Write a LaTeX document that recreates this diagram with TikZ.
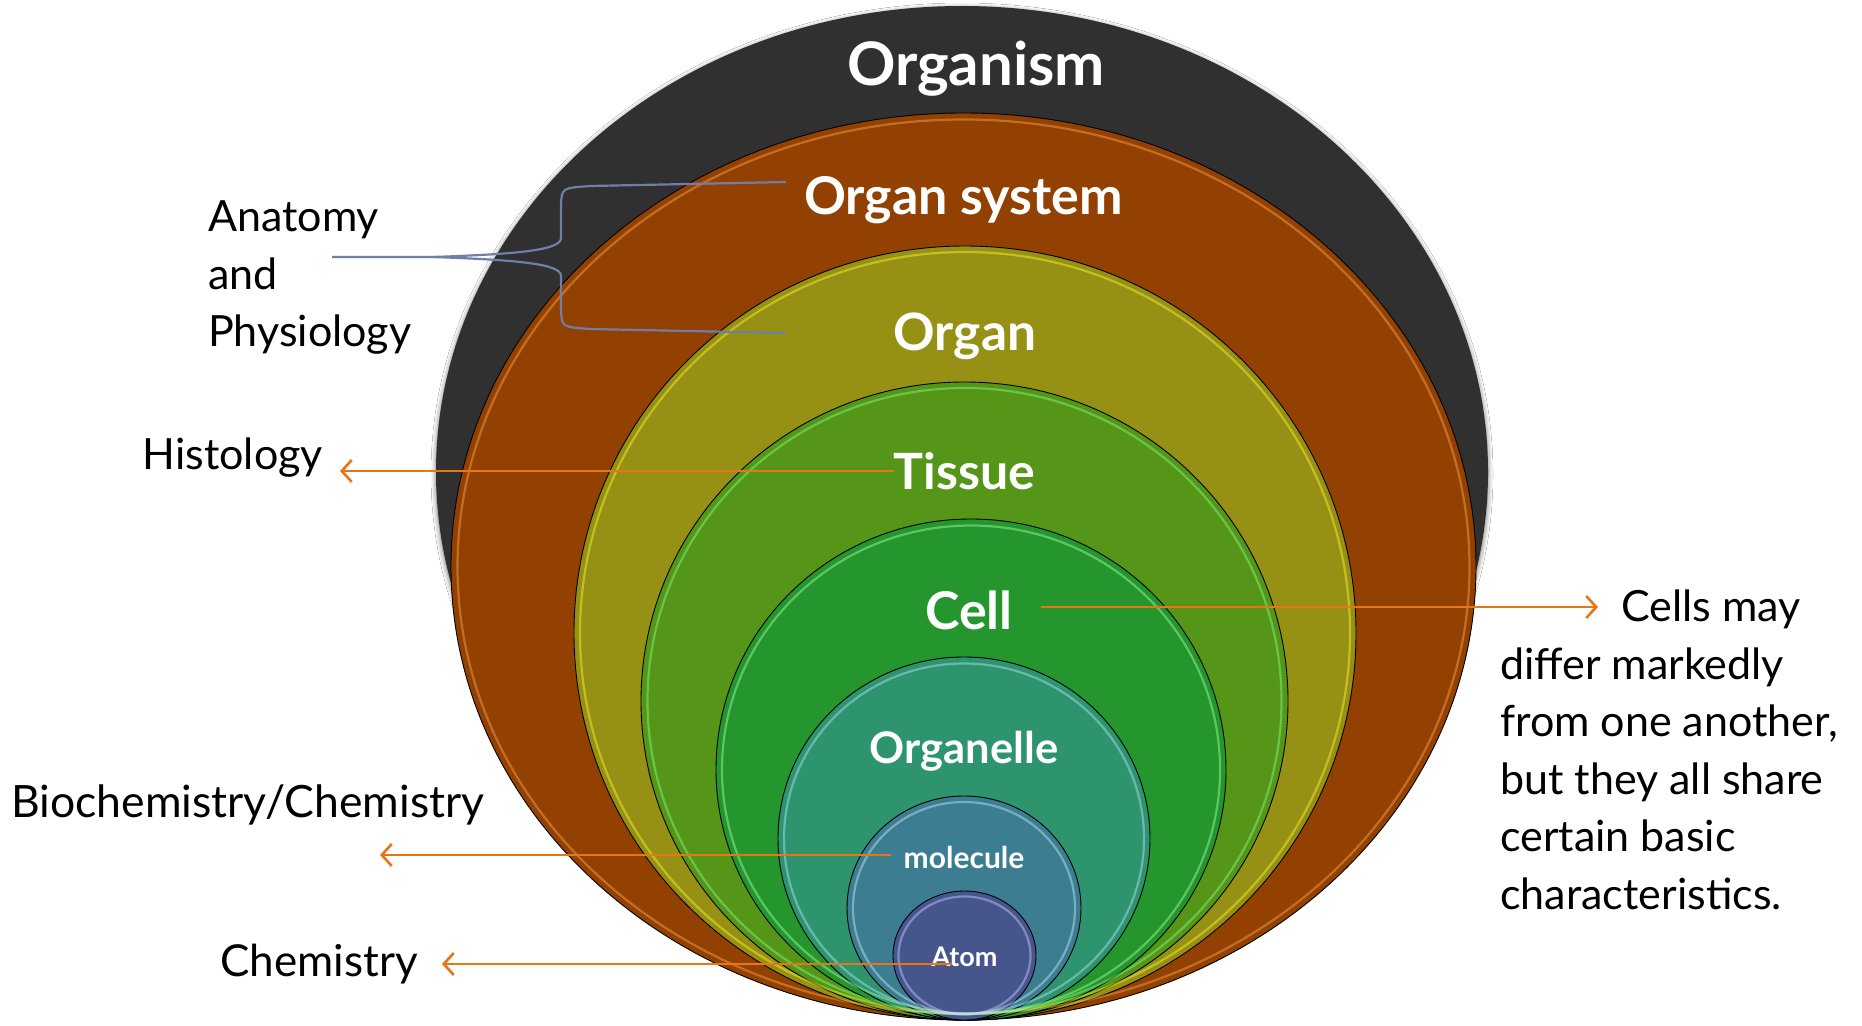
\documentclass[tikz,border=0pt]{standalone}
\usepackage{fontspec}
\setmainfont{Lato}
\usetikzlibrary{arrows.meta,positioning,calc,shapes.geometric,shadows.blur}

\definecolor{organismgray}{RGB}{48,48,48}
\definecolor{systembrown}{RGB}{147,65,2}
\definecolor{organolive}{RGB}{150,145,20}
\definecolor{tissuegreen}{RGB}{85,150,25}
\definecolor{cellgreen}{RGB}{36,150,45}
\definecolor{organelleteal}{RGB}{45,148,110}
\definecolor{moleculeblue}{RGB}{60,125,145}
\definecolor{atomblue}{RGB}{70,86,140}
\definecolor{arroworange}{RGB}{232,118,20}
\definecolor{bracegray}{RGB}{112,126,168}

\begin{document}
\begin{tikzpicture}[x=1pt, y=-1pt, >={Straight Barb[length=10pt,width=22pt,line width=2.6pt]}]
  \tikzstyle{ring}=[ellipse, draw=black, line width=0.9pt, inner sep=0pt, outer sep=0pt]
  \tikzstyle{rim}=[line width=2.2pt, draw opacity=0.45]
  \tikzstyle{level}=[text=white, inner sep=0pt]
  \tikzstyle{field}=[text=black, inner sep=0pt, align=left, font=\fontsize{43}{57.5}\selectfont]
  \tikzstyle{arr}=[->, draw=arroworange, line width=2.4pt]
  \tikzstyle{brace}=[draw=bracegray, line width=2.2pt]

  \fill[white] (0,0) rectangle (1862,1025);
  \useasboundingbox (0,0) rectangle (1862,1025);

  % nested levels, outermost first
  \node[ring, draw=none, fill=organismgray, minimum width=1052pt, minimum height=932pt,
        blur shadow={shadow xshift=0pt, shadow yshift=-2pt, shadow blur radius=5pt, shadow opacity=60}] (organism) at (962,472) {};
  \node[ring, fill=systembrown, minimum width=1025pt, minimum height=907pt] (system) at (963.5,566.5) {};
  \node[ring, fill=organolive, minimum width=782pt, minimum height=774pt] (organ) at (965,633) {};
  \node[ring, fill=tissuegreen, minimum width=647pt, minimum height=638pt] (tissue) at (964.5,701) {};
  \node[ring, fill=cellgreen, minimum width=510pt, minimum height=501pt] (cell) at (971,769.5) {};
  \node[ring, fill=organelleteal, minimum width=372pt, minimum height=363pt] (organelle) at (964,838.5) {};
  \node[ring, fill=moleculeblue, minimum width=234pt, minimum height=224pt] (molecule) at (964,908) {};
  \node[ring, fill=atomblue, minimum width=143pt, minimum height=129pt] (atom) at (964.5,955.5) {};

  % glossy inner rims
  \draw[rim, draw=orange!70!white] (system.center) ellipse [x radius=506pt, y radius=447pt];
  \draw[rim, draw=yellow!80!white] (organ.center) ellipse [x radius=385pt, y radius=381pt];
  \draw[rim, draw=green!50!white] (tissue.center) ellipse [x radius=317pt, y radius=313pt];
  \draw[rim, draw=green!35!white] (cell.center) ellipse [x radius=249pt, y radius=244pt];
  \draw[rim, draw=cyan!30!white] (organelle.center) ellipse [x radius=180pt, y radius=175pt];
  \draw[rim, draw=cyan!25!white] (molecule.center) ellipse [x radius=111pt, y radius=106pt];
  \draw[rim, draw=blue!20!white] (atom.center) ellipse [x radius=66pt, y radius=59pt];

  % level names
  \node[level, font=\bfseries\fontsize{60}{64}\selectfont] (organismlbl) at ([yshift=-63pt, xshift=14pt]organism.north) {Organism};
  \node[level, font=\bfseries\fontsize{52}{56}\selectfont] (systemlbl) at ([yshift=-87pt]system.north) {Organ system};
  \node[level, font=\bfseries\fontsize{51.5}{55}\selectfont] (organlbl) at ([yshift=-90pt]organ.north) {Organ};
  \node[level, font=\bfseries\fontsize{50}{54}\selectfont] (tissuelbl) at ([yshift=-89pt]tissue.north) {Tissue};
  \node[level, font=\bfseries\fontsize{52}{56}\selectfont] (celllbl) at ([yshift=-91pt, xshift=-2pt]cell.north) {Cell};
  \node[level, font=\bfseries\fontsize{43.5}{47}\selectfont] (organellelbl) at ([yshift=-94pt]organelle.north) {Organelle};
  \node[level, font=\bfseries\fontsize{30}{34}\selectfont] (moleculelbl) at ([yshift=-61pt]molecule.north) {molecule};
  \node[level, font=\bfseries\fontsize{27}{30}\selectfont] (atomlbl) at ([yshift=-66pt]atom.north) {Atom};

  % fields of study
  \node[field, anchor=west] (anatomy) at (208,278) {Anatomy\\and\\Physiology};
  \node[field, anchor=east] (histology) at (323,458) {Histology};
  \node[field, anchor=west, font=\fontsize{44.5}{57.5}\selectfont] (biochem) at (11,805) {Biochemistry/Chemistry};
  \node[field, anchor=east, font=\fontsize{44}{57.5}\selectfont] (chemistry) at (418,964) {Chemistry};
  \node[field, anchor=west] (cellnote) at (1500,750) {\hspace*{121pt}Cells may\\differ markedly\\from one another,\\but they all share\\certain basic\\characteristics.};

  % brace for anatomy and physiology
  \coordinate (brace-stem) at (332,257);
  \coordinate (brace-tip) at (433,257);
  \coordinate (brace-top) at (786,182);
  \coordinate (brace-bot) at (786,333);
  \draw[brace] (brace-top) -- (590,186) .. controls (562,188) .. (561,204) -- (561,238)
    .. controls (561,250) and (520,254) .. (brace-tip) -- (brace-stem);
  \draw[brace] (brace-bot) -- (590,329) .. controls (562,327) .. (561,311) -- (561,276)
    .. controls (561,264) and (520,260) .. (brace-tip);

  % arrows
  \coordinate (histology-tip) at (340,471);
  \coordinate (cell-start) at (1041,607);
  \coordinate (cell-tip) at (1598,607);
  \coordinate (molecule-start) at (891,855);
  \coordinate (biochem-tip) at (380,855);
  \coordinate (atom-start) at (952,964);
  \coordinate (chemistry-tip) at (442,964);
  \draw[arr] (tissuelbl.west |- histology-tip) -- (histology-tip);
  \draw[arr] (cell-start) -- (cell-tip);
  \draw[arr] (molecule-start) -- (biochem-tip);
  \draw[arr] (atom-start) -- (chemistry-tip);
\end{tikzpicture}
\end{document}
